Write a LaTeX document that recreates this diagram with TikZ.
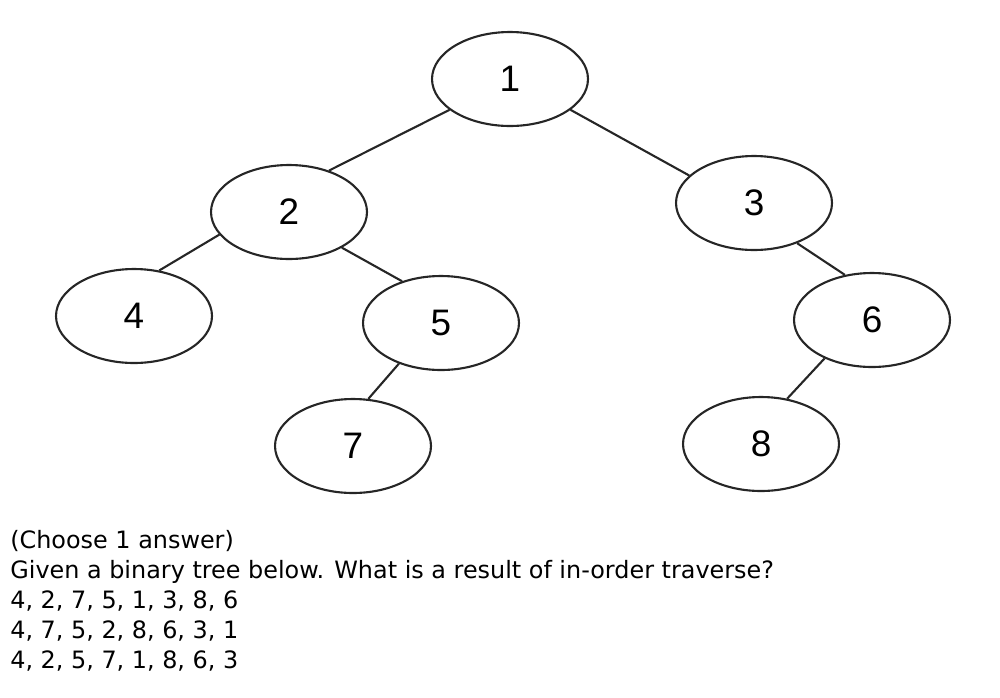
\documentclass[tikz,border=0pt]{standalone}
\usepackage{fontspec}
\setmainfont{DejaVu Sans}
\newfontfamily\digitfont{Liberation Sans}
\usetikzlibrary{shapes.geometric}
\begin{document}
\begin{tikzpicture}[x=0.02cm,y=-0.02cm,
  treenode/.style={draw=black!85, line width=1.2pt, ellipse, minimum width=3.12cm, minimum height=1.88cm, inner sep=0pt, font=\digitfont\fontsize{21}{21}\selectfont},
  edge/.style={draw=black!85, line width=1.2pt},
  qtext/.style={anchor=base west, inner sep=0pt, font=\fontsize{13.6}{16}\selectfont}]
\useasboundingbox (0,0) rectangle (1000,697);
\node[treenode] (n1) at (510,79) {1};
\node[treenode] (n2) at (289,212) {2};
\node[treenode] (n3) at (754,203) {3};
\node[treenode] (n4) at (134,316) {4};
\node[treenode] (n5) at (441,323) {5};
\node[treenode] (n6) at (872,320) {6};
\node[treenode] (n7) at (353,446) {7};
\node[treenode] (n8) at (761,444) {8};
\draw[edge] (n1.207) -- (n2.46);
\draw[edge] (n1.333) -- (n3.157);
\draw[edge] (n2.198) -- (n4.61);
\draw[edge] (n2.326) -- (n5.133);
\draw[edge] (n3.317) -- (n6.121);
\draw[edge] (n5.224) -- (n7.72);
\draw[edge] (n6.219) -- (n8.60);
\node[qtext] (t1) at (10,548) {(Choose 1 answer)};
\node[qtext] (t2) at (10,578) {Given a binary tree below. What is a result of in-order traverse?};
\node[qtext] (t3) at (10,608) {4, 2, 7, 5, 1, 3, 8, 6};
\node[qtext] (t4) at (10,638) {4, 7, 5, 2, 8, 6, 3, 1};
\node[qtext] (t5) at (10,668) {4, 2, 5, 7, 1, 8, 6, 3};
\end{tikzpicture}
\end{document}
